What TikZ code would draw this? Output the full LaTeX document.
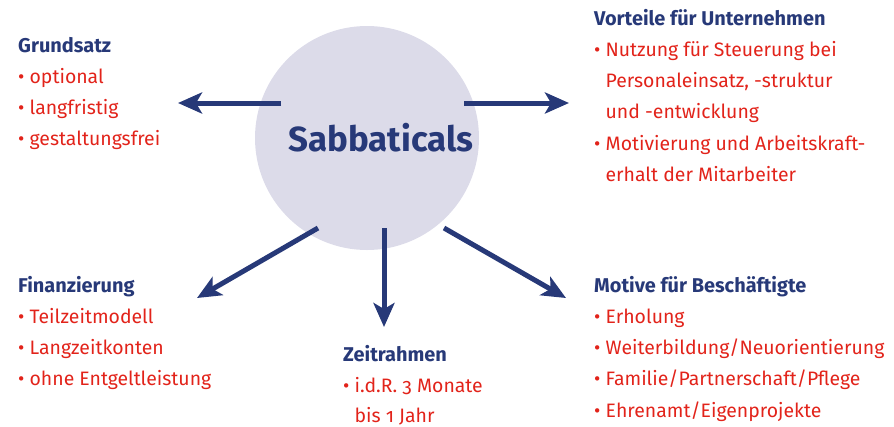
\documentclass[tikz,border=0pt]{standalone}
\usepackage{fontspec}
\setmainfont[Numbers=OldStyle]{Fira Sans}
\usetikzlibrary{arrows.meta}
\definecolor{navy}{RGB}{39,57,120}
\definecolor{rot}{RGB}{226,35,26}
\definecolor{flieder}{RGB}{220,219,233}
\tikzset{
  pfeil/.style={draw=navy,line width=5bp,-{Stealth[length=24bp,width=21bp,inset=6bp]}},
  block/.style={anchor=north west,align=left,inner sep=0pt,text=rot,
    font=\fontsize{19.5}{31.3}\selectfont}
}
\newcommand{\kopf}[1]{\textcolor{navy}{\fontsize{20}{31.3}\selectfont\bfseries #1}}
\newcommand{\pkt}{\textbullet\ }
\newcommand{\ein}{\phantom{\textbullet\ }}
\begin{document}
\begin{tikzpicture}[x=1bp,y=-1bp]
   \useasboundingbox (0,0) rectangle (894,426);
   \fill[flieder] (367,138) circle (112);
   \node (sab) at (381,138) {\fontsize{35}{35}\selectfont\bfseries\color{navy}Sabbaticals};
   % Pfeile
   \coordinate (l0) at (281,103);  \coordinate (l1) at (178,103);
   \coordinate (r0) at (464,103);  \coordinate (r1) at (569,103);
   \coordinate (bl0) at (318,228); \coordinate (bl1) at (197,298);
   \coordinate (bm0) at (384,228); \coordinate (bm1) at (384,327);
   \coordinate (br0) at (444,228); \coordinate (br1) at (566,298);
   \draw[pfeil] (l0) -- (l1);
   \draw[pfeil] (r0) -- (r1);
   \draw[pfeil] (bl0) -- (bl1);
   \draw[pfeil] (bm0) -- (bm1);
   \draw[pfeil] (br0) -- (br1);
   % Texte
   \node[block] (grund) at (18,37) {\kopf{Grundsatz}\\\pkt optional\\\pkt langfristig\\\pkt gestaltungsfrei};
   \node[block] (vort) at (594,9) {\kopf{Vorteile für Unternehmen}\\\pkt Nutzung für Steuerung bei\\\ein Personaleinsatz, -struktur\\\ein und -entwicklung\\\pkt Motivierung und Arbeitskraft-\\\ein erhalt der Mitarbeiter};
   \node[block] (fin) at (18,276) {\kopf{Finanzierung}\\\pkt Teilzeitmodell\\\pkt Langzeitkonten\\\pkt ohne Entgeltleistung};
   \node[block] (zeit) at (343,345) {\kopf{Zeitrahmen}\\\pkt i.d.R. 3 Monate\\[-1.5bp]\ein bis 1 Jahr};
   \node[block] (motiv) at (594,276) {\kopf{Motive für Beschäftigte}\\\pkt Erholung\\\pkt Weiterbildung/Neuorientierung\\\pkt Familie/Partnerschaft/Pflege\\\pkt Ehrenamt/Eigenprojekte};
\end{tikzpicture}
\end{document}
